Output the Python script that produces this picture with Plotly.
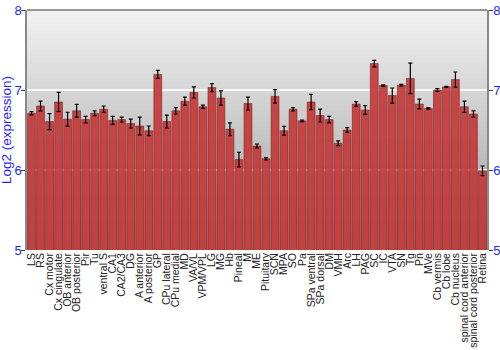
import plotly.graph_objects as go

categories = ["LS", "RS", "Cx motor", "Cx cingulate", "OB anterior", "OB posterior", "Pir", "Tu",
              "ventral S", "CA1", "CA2/CA3", "DG", "A anterior", "A posterior", "GP", "CPu lateral",
              "CPu medial", "MD", "VA/VL", "VPM/VPL", "LG", "MG", "Hb", "Pineal", "M", "ME",
              "Pituitary", "SCN", "MPA", "SO", "Pa", "SPa ventral", "SPa dorsal", "DM", "VMH", "Arc",
              "LH", "PAG", "SC", "IC", "VTA", "SN", "Tg", "Pn", "MVe", "Cb vermis", "Cb lobe",
              "Cb nucleus", "spinal cord anterior", "spinal cord posterior", "Retina"]

values = [6.71, 6.80, 6.605, 6.85, 6.635, 6.74, 6.63, 6.71, 6.76, 6.62, 6.63, 6.58, 6.55, 6.49,
          7.195, 6.605, 6.74, 6.86, 6.97, 6.79, 7.03, 6.90, 6.51, 6.13, 6.83, 6.30, 6.14, 6.92,
          6.49, 6.76, 6.615, 6.85, 6.68, 6.63, 6.335, 6.50, 6.825, 6.75, 7.33, 7.055, 6.93, 7.06,
          7.145, 6.825, 6.77, 7.0, 7.04, 7.13, 6.79, 6.70, 5.99]

errors = [0.02, 0.06, 0.10, 0.12, 0.087, 0.08, 0.04, 0.03, 0.04, 0.05, 0.03, 0.055, 0.11, 0.06,
          0.05, 0.08, 0.04, 0.05, 0.07, 0.02, 0.05, 0.09, 0.08, 0.09, 0.08, 0.025, 0.015, 0.085,
          0.055, 0.02, 0.01, 0.095, 0.08, 0.04, 0.03, 0.03, 0.03, 0.055, 0.04, 0.01, 0.095, 0.01,
          0.19, 0.06, 0.01, 0.017, 0.006, 0.095, 0.07, 0.04, 0.06]

y_range = [5, 8]
y_ticks = [5, 6, 7, 8]
y_title = "Log2 (expression)"

BLUE = "#1f1fff"
fig = go.Figure()

fig.add_trace(go.Bar(
    x=categories, y=values,
    base=0,
    marker=dict(color="rgba(196,54,54,0.9)", line=dict(color="rgba(120,20,20,0.9)", width=0.6)),
    error_y=dict(type="data", array=errors, color="black", thickness=1.2, width=2),
    showlegend=False, hoverinfo="x+y",
))
fig.add_trace(go.Scatter(x=categories, y=values, mode="none", yaxis="y2",
                         showlegend=False, hoverinfo="skip"))

# vertical gray gradient background
n = 60
top = (242, 242, 242)
bot = (158, 158, 158)
for i in range(n):
    t = i / (n - 1)
    c = tuple(int(round(bot[k] + (top[k] - bot[k]) * t)) for k in range(3))
    fig.add_shape(type="rect", xref="paper", yref="paper", x0=0, x1=1,
                  y0=i / n, y1=(i + 1) / n + 0.002, line=dict(width=0),
                  fillcolor="rgb(%d,%d,%d)" % c, layer="below")

axis_font = dict(family="Liberation Sans, Arial, sans-serif", size=13, color=BLUE)
fig.update_layout(
    width=500, height=350,
    margin=dict(l=27, r=13, t=10, b=99.5),
    paper_bgcolor="white", plot_bgcolor="#c8c8c8",
    bargap=0.13,
    font=dict(family="Liberation Sans, Arial, sans-serif"),
    xaxis=dict(type="category", tickangle=-90, ticks="", showgrid=False, tickmode="linear",
               dtick=1, automargin=False,
               tickfont=dict(size=10.5, color="#222222"), showline=False,
               range=[-0.5, len(categories) - 0.5]),
    yaxis=dict(range=y_range, tickvals=y_ticks, ticks="outside", ticklen=4, tickcolor="#444",
               tickfont=axis_font, showline=True, linecolor="#888", linewidth=1.5,
               automargin=False, ticklabelstandoff=-3,
               showgrid=True, gridcolor="rgba(255,255,255,0.85)", gridwidth=2, zeroline=False),
    yaxis2=dict(range=y_range, tickvals=y_ticks, overlaying="y", side="right", ticks="outside",
                ticklen=4, tickcolor="#444", tickfont=axis_font, showline=True, linecolor="#888",
                linewidth=1.5, showgrid=False, zeroline=False, automargin=False,
                ticklabelstandoff=-2),
)
fig.add_annotation(text=y_title, xref="paper", yref="paper", x=0, y=0.5, xanchor="center",
                   yanchor="middle", xshift=-21, textangle=-90, showarrow=False,
                   font=dict(size=13.5, color=BLUE))
fig.add_shape(type="line", xref="paper", yref="paper", x0=0, x1=1, y0=1, y1=1,
              line=dict(color="#777", width=1.5))

fig.write_html("out.html")
